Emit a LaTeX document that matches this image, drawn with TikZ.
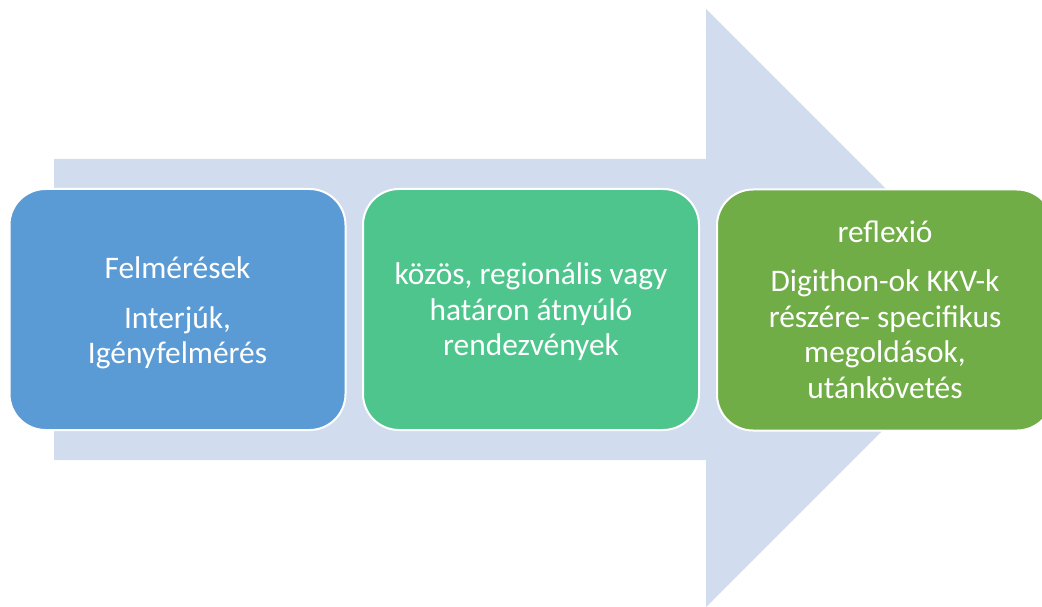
\documentclass[tikz,border=0pt]{standalone}
\usepackage{fontspec}
\setmainfont{Carlito}
\definecolor{arrowbg}{RGB}{209,220,238}
\definecolor{boxblue}{RGB}{91,155,213}
\definecolor{boxteal}{RGB}{79,197,142}
\definecolor{boxgreen}{RGB}{112,173,71}
\begin{document}
\begin{tikzpicture}[x=1pt,y=-1pt,
  stagebox/.style={draw=white, line width=2pt, rounded corners=36pt, inner sep=0pt,
    rectangle, minimum width=336pt, minimum height=241pt},
  stagetext/.style={text=white, align=center, inner sep=0pt, font=\fontsize{31.4}{35.5}\selectfont}]
\useasboundingbox (0,0) rectangle (1042,607);
\clip (0,0) rectangle (1042,607);
% big background arrow
\fill[arrowbg] (54,159) -- (706,159) -- (706,9) -- (1005,308) -- (706,607) -- (706,460) -- (54,460) -- cycle;
% boxes
\node[stagebox, fill=boxblue] (b1) at (177.5,309.5) {};
\node[stagebox, fill=boxteal] (b2) at (531,309.5) {};
\node[stagebox, fill=boxgreen] (b3) at (885,310) {};
\node[stagetext] (t1) at (177.5,313) {Felmérések\\[14.5pt]Interjúk,\\Igényfelmérés};
\node[stagetext] (t2) at (531,312) {közös, regionális vagy\\határon átnyúló\\rendezvények};
\node[stagetext] (t3) at (885,310) {reflexió\\[13.5pt]Digithon-ok KKV-k\\részére- specifikus\\megoldások,\\utánkövetés};
\end{tikzpicture}
\end{document}
